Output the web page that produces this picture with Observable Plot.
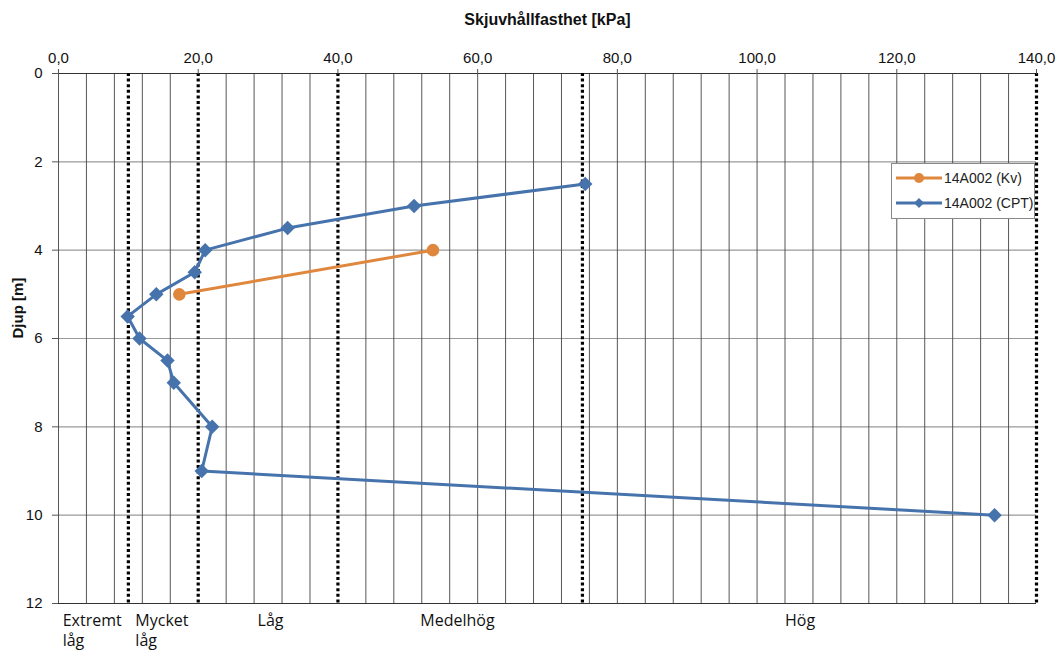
<!DOCTYPE html>
<html>
<head>
<meta charset="utf-8">
<script src="https://cdn.jsdelivr.net/npm/d3@7"></script>
<script src="https://cdn.jsdelivr.net/npm/@observablehq/plot@0.6"></script>
<style>
  body { margin: 0; background: #fff; font-family: "Liberation Sans", Arial, sans-serif; }
  #wrap { position: relative; width: 1059px; height: 650px; }
  #legend { position: absolute; left: 891px; top: 163px; width: 144px; height: 56px; border: 1px solid #888; background: #fff; font: 14px "Liberation Sans", Arial, sans-serif; color: #222; box-sizing: border-box; }
  .li { position: absolute; left: 4px; display: flex; align-items: center; white-space: nowrap; }
  .li svg { margin-right: 2px; }
</style>
</head>
<body>
<div id="wrap"></div>
<script>
const kpaTicks = [0, 20, 40, 60, 80, 100, 120, 140];
const depthTicks = [0, 2, 4, 6, 8, 10, 12];
const cptDepth = [2.5, 3, 3.5, 4, 4.5, 5, 5.5, 6, 6.5, 7, 8, 9, 10];
const cptKpa = [75.4, 50.9, 32.8, 21.0, 19.5, 14.0, 9.9, 11.6, 15.6, 16.5, 22.0, 20.5, 134.0];
const kvDepth = [4, 5];
const kvKpa = [53.6, 17.3];
const classLimits = [10, 20, 40, 75, 140];
const classNames = ["Extremt\nlåg", "Mycket\nlåg", "Låg", "Medelhög", "Hög"];
const classLabelKpa = [0.6, 11.0, 28.5, 51.8, 104.0];
const seriesNames = ["14A002 (Kv)", "14A002 (CPT)"];
const blue = "#4673AC";
const orange = "#E0873E";

const cpt = cptDepth.map((d, i) => ({depth: d, kpa: cptKpa[i]}));
const kv = kvDepth.map((d, i) => ({depth: d, kpa: kvKpa[i]}));
const classes = classNames.map((n, i) => ({name: n, kpa: classLabelKpa[i]}));

const fmt = d => d.toFixed(1).replace(".", ",");

const chart = Plot.plot({
  width: 1059,
  height: 650,
  marginTop: 73,
  marginBottom: 47,
  marginLeft: 58,
  marginRight: 23,
  style: {fontFamily: "'Liberation Sans', Arial, sans-serif", fontSize: "15px", color: "#111"},
  x: {domain: [0, 140]},
  y: {domain: [0, 12], reverse: true},
  marks: [
    Plot.ruleY(depthTicks.filter(d => d > 0 && d < 12), {stroke: "#999", strokeWidth: 1.2, strokeOpacity: 1}),
    Plot.ruleX(d3.range(0, 141, 4).filter(d => !classLimits.includes(d)), {stroke: "#444", strokeWidth: 0.9, strokeOpacity: 1}),
    Plot.ruleY([0, 12], {stroke: "#333", strokeWidth: 1}),
    Plot.ruleX(classLimits, {stroke: "#000", strokeWidth: 3.2, strokeDasharray: "3,2.6"}),
    Plot.axisX(kpaTicks, {anchor: "top", tickSize: 5, tickPadding: 6, tickFormat: fmt, label: null, fontSize: 15, stroke: "#555"}),
    Plot.axisY(depthTicks, {anchor: "left", tickSize: 6, tickPadding: 10, label: null, fontSize: 15, stroke: "#555"}),
    Plot.line(kv, {x: "kpa", y: "depth", stroke: orange, strokeWidth: 3}),
    Plot.dot(kv, {x: "kpa", y: "depth", fill: orange, r: 6.3, symbol: "circle"}),
    Plot.line(cpt, {x: "kpa", y: "depth", stroke: blue, strokeWidth: 3}),
    Plot.dot(cpt, {x: "kpa", y: "depth", fill: blue, r: 6.5, symbol: "diamond2"}),
    Plot.text(classes, {x: "kpa", y: () => 12, text: "name", textAnchor: "start", lineAnchor: "top", dy: 8, lineHeight: 1.25, fontSize: 16, fontFamily: "'Open Sans', 'Liberation Sans', sans-serif", fill: "#111"}),
    Plot.text(["Skjuvhållfasthet [kPa]"], {frameAnchor: "top", dy: -60, text: d => d, fontWeight: "bold", fontSize: 16, fill: "#111"}),
    Plot.text(["Djup [m]"], {frameAnchor: "left", dx: -40, rotate: -90, text: d => d, fontWeight: "bold", fontSize: 15, fill: "#111"})
  ]
});
document.getElementById("wrap").appendChild(chart);

const legend = document.createElement("div");
legend.id = "legend";
const sym = (c, circle) => `<svg width="46" height="12"><line x1="0" y1="6" x2="46" y2="6" stroke="${c}" stroke-width="3"/>` +
  (circle ? `<circle cx="23" cy="6" r="5" fill="${c}"/>` : `<path d="M23 1 L28 6 L23 11 L18 6 Z" fill="${c}"/>`) + `</svg>`;
legend.innerHTML =
  `<div class="li" style="top:6px">${sym(orange, true)}${seriesNames[0]}</div>` +
  `<div class="li" style="top:31px">${sym(blue, false)}${seriesNames[1]}</div>`;
document.getElementById("wrap").appendChild(legend);
</script>
</body>
</html>
